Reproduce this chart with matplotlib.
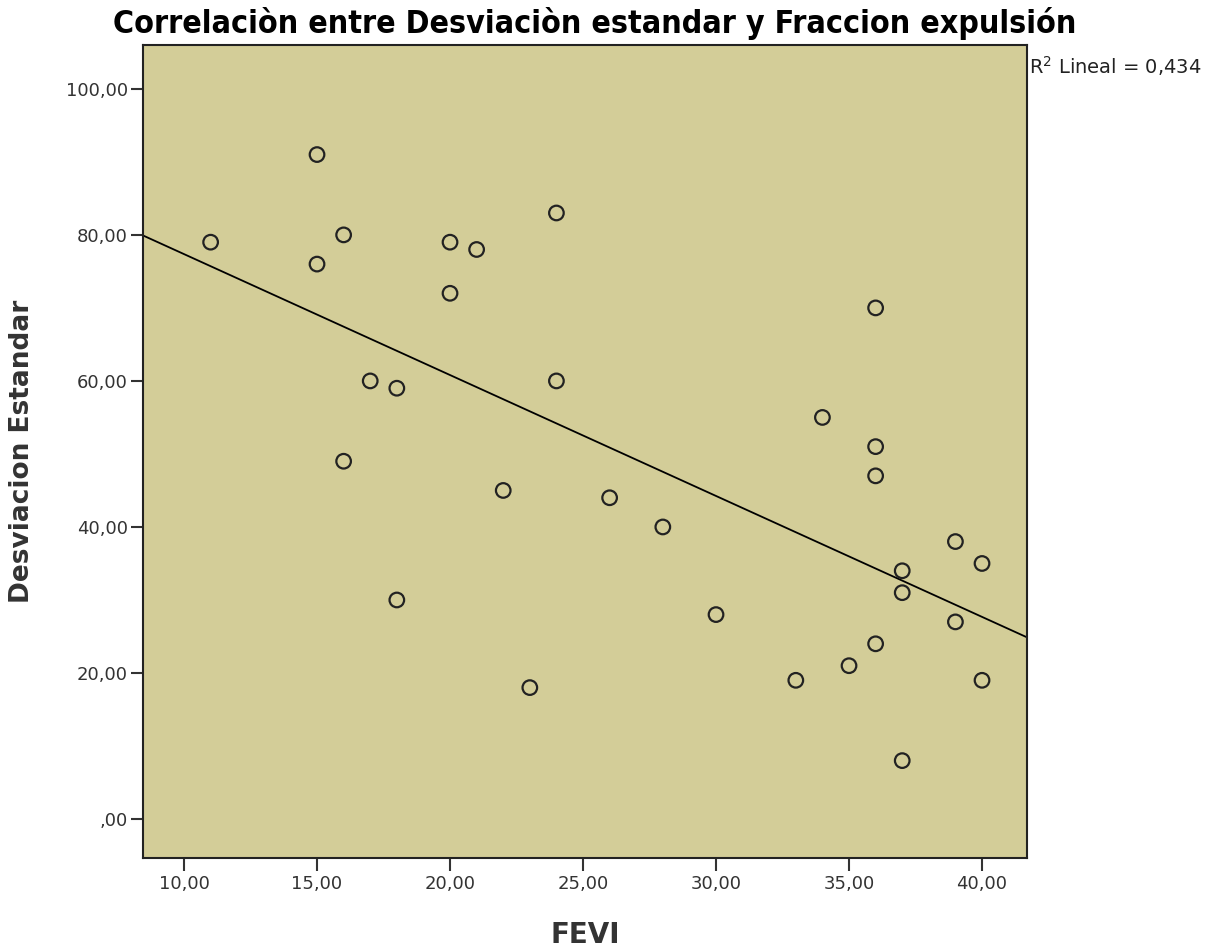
import matplotlib
matplotlib.use('Agg')
import matplotlib.pyplot as plt
import numpy as np
from matplotlib.ticker import FuncFormatter

# FEVI vs standard deviation
fevi = [11, 15, 15, 16, 16, 17, 18, 18, 20, 20, 21, 22, 23, 24, 24, 26,
        28, 30, 33, 34, 35, 36, 36, 36, 36, 37, 37, 37, 39, 39, 40, 40]
desv = [79, 91, 76, 80, 49, 60, 59, 30, 79, 72, 78, 45, 18, 83, 60, 44,
        40, 28, 19, 55, 21, 70, 51, 47, 24, 34, 31, 8, 38, 27, 35, 19]
xticks = [10, 15, 20, 25, 30, 35, 40]
yticks = [0, 20, 40, 60, 80, 100]
r2_label = 'R$^2$ Lineal = 0,434'

x = np.array(fevi, dtype=float)
y = np.array(desv, dtype=float)
slope, intercept = np.polyfit(x, y, 1)

fig = plt.figure(figsize=(12.28, 9.48), dpi=100)
ax = fig.add_axes([0.1165, 0.0949, 0.7198, 0.8576])
ax.set_facecolor('#d3cd98')

xlim = (8.46, 41.69)
ylim = (-5.34, 106.0)
ax.set_xlim(*xlim)
ax.set_ylim(*ylim)

xl = np.array(xlim)
ax.plot(xl, intercept + slope * xl, color='k', lw=1.3, zorder=2)
ax.scatter(x, y, s=110, facecolors='none', edgecolors='#222222', linewidths=1.6, zorder=3)


def comma(v, pos):
    s = ('%.2f' % v).replace('.', ',')
    return s[1:] if v == 0 else s


ax.set_xticks(xticks)
ax.set_yticks(yticks)
ax.xaxis.set_major_formatter(FuncFormatter(comma))
ax.yaxis.set_major_formatter(FuncFormatter(comma))
ax.tick_params(labelsize=13, length=9, width=1.5, color='#333333', labelcolor='#333333')
ax.tick_params(axis='y', pad=2)

for s in ax.spines.values():
    s.set_linewidth(1.5)
    s.set_color('#222222')

ax.set_xlabel('FEVI', fontsize=20, fontweight='bold', color='#333333', labelpad=20)
ax.set_ylabel('Desviacion Estandar', fontsize=19, fontweight='bold', color='#333333', labelpad=22)
fig.text(0.4845, 0.975, 'Correlaciòn entre Desviaciòn estandar y Fraccion expulsión',
         ha='center', va='center', fontsize=23, fontweight='bold', fontstretch='condensed')
fig.text(0.838, 0.930, r2_label, ha='left', va='center', fontsize=14, color='#222222')

fig.savefig('out.png', dpi=100)
